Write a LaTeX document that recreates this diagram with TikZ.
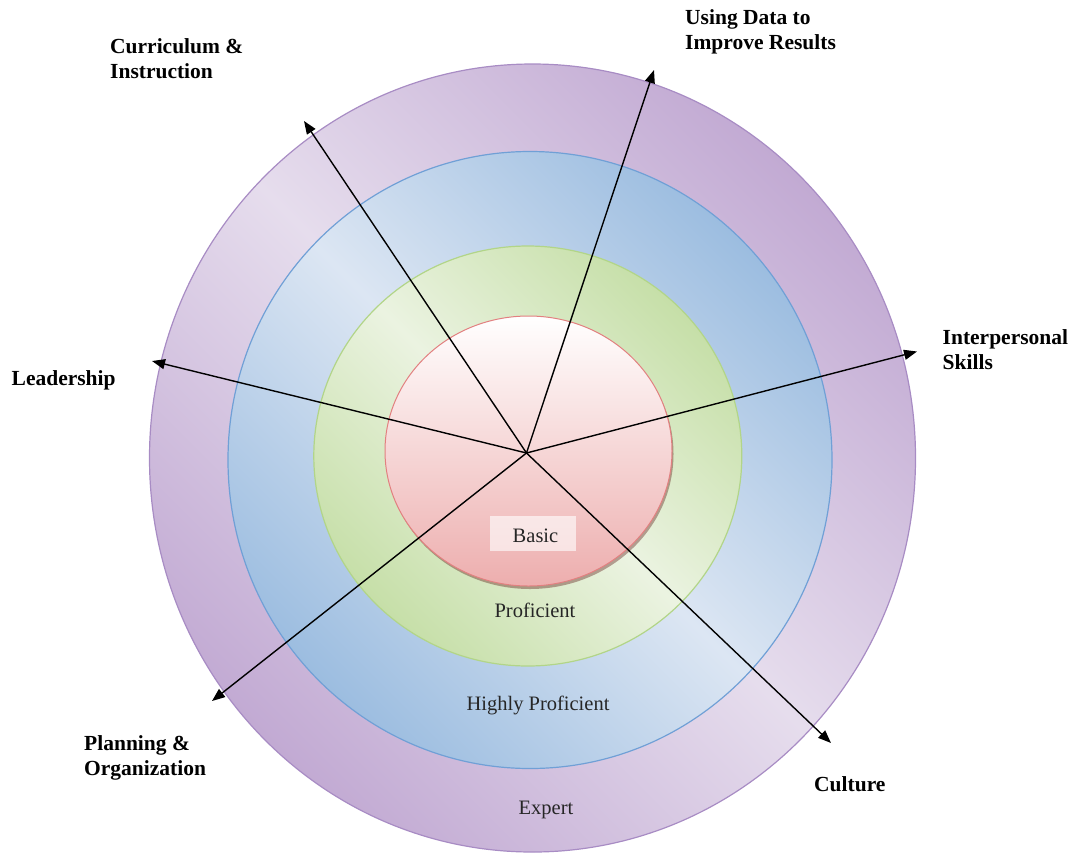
\documentclass[tikz,border=0pt]{standalone}
\usepackage{fontspec}
\setmainfont{Liberation Serif}
\usetikzlibrary{arrows.meta,shapes.geometric}
\definecolor{purD}{RGB}{194,170,211}
\definecolor{purL}{RGB}{230,221,237}
\definecolor{purE}{RGB}{168,140,196}
\definecolor{bluD}{RGB}{156,189,224}
\definecolor{bluL}{RGB}{220,230,243}
\definecolor{bluE}{RGB}{112,160,214}
\definecolor{grnD}{RGB}{198,223,168}
\definecolor{grnL}{RGB}{235,243,225}
\definecolor{grnE}{RGB}{178,213,136}
\definecolor{redB}{RGB}{237,174,174}
\definecolor{redE}{RGB}{226,128,128}
\begin{document}
\begin{tikzpicture}[x=1pt,y=-1pt,
  ring/.style={ellipse, inner sep=0pt, line width=1.2pt},
  axisarrow/.style={line width=1.4pt, -{Triangle[length=13pt,width=10pt]}},
  dimlabel/.style={font=\fontsize{21.5}{24.5}\selectfont\bfseries, align=left, anchor=base west, inner sep=0pt},
  lvl/.style={font=\fontsize{20.5}{24}\selectfont, text=black!85, inner sep=0pt, anchor=base}]
\useasboundingbox (0,0) rectangle (1081,855);
% rings
\node[ring, draw=purE, top color=purD, bottom color=purD, middle color=purL, shading angle=-45,
      minimum width=766pt, minimum height=788pt] (expert) at (532.5,458) {};
\node[ring, draw=bluE, top color=bluD, bottom color=bluD, middle color=bluL, shading angle=-45,
      minimum width=604pt, minimum height=617pt] (highly) at (530,460) {};
\node[ring, draw=grnE, top color=grnD, bottom color=grnD, middle color=grnL, shading angle=-45,
      minimum width=428pt, minimum height=420pt] (prof) at (527.8,456) {};
\node[ring, fill=black!70!red, fill opacity=0.35, minimum width=287pt, minimum height=270pt] (shadowB) at (530,454) {};
\node[ring, draw=redE, line width=1pt, top color=white, bottom color=redB,
      minimum width=287pt, minimum height=270pt] (basic) at (528.5,451) {};
% basic label box
\node[fill=white, fill opacity=0.62, minimum width=86pt, minimum height=35pt, inner sep=0pt] (boxB) at (533,533.5) {};
% level labels
\node[lvl] (lBasic) at (535.5,542) {Basic};
\node[lvl] (lProf) at (535,617) {Proficient};
\node[lvl] (lHigh) at (538,710) {Highly Proficient};
\node[lvl] (lExp) at (546,814) {Expert};
% axes
\coordinate (c) at (526.5,453);
\coordinate (tCI) at (304,121);
\coordinate (tUD) at (654,70);
\coordinate (tIS) at (917,351.5);
\coordinate (tL) at (152,361);
\coordinate (tPO) at (212,701);
\coordinate (tC) at (831,743);
\draw[axisarrow] (c) -- (tCI);
\draw[axisarrow] (c) -- (tUD);
\draw[axisarrow] (c) -- (tIS);
\draw[axisarrow] (c) -- (tL);
\draw[axisarrow] (c) -- (tPO);
\draw[axisarrow] (c) -- (tC);
% dimension labels (anchor = baseline of last line)
\node[dimlabel] (lCI) at (110,78) {Curriculum \&\\Instruction};
\node[dimlabel] (lUD) at (685,49) {Using Data to\\Improve Results};
\node[dimlabel] (lIS) at (942.5,369) {Interpersonal\\Skills};
\node[dimlabel] (lL) at (11.5,385) {Leadership};
\node[dimlabel] (lPO) at (84,775) {Planning \&\\Organization};
\node[dimlabel] (lC) at (814,791.5) {Culture};
\end{tikzpicture}
\end{document}
